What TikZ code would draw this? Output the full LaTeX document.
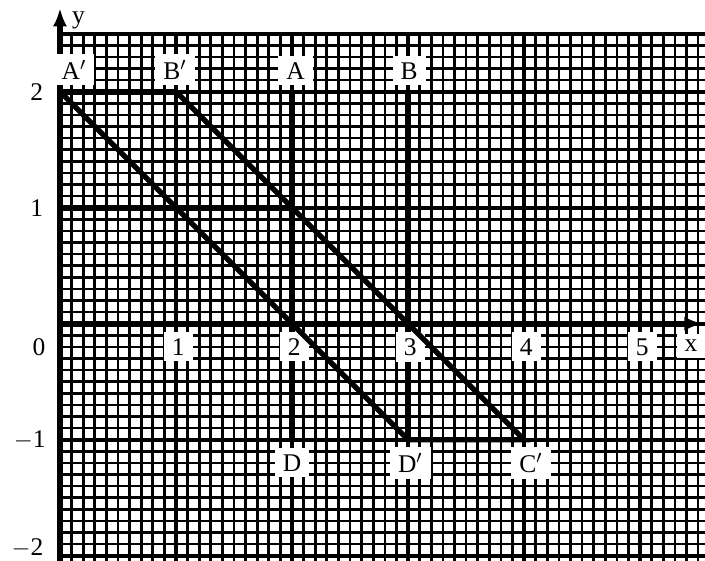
\documentclass[tikz,border=0pt]{standalone}
\usepackage{fontspec}
\setmainfont{Liberation Serif}
\usetikzlibrary{arrows.meta}
\begin{document}
\begin{tikzpicture}[
    x = 2cm, y = 2cm,
    fine/.style = {line width=1.3pt},
    unitline/.style = {line width=1.9pt},
    heavy/.style = {line width=3pt},
    seg/.style = {line width=2.6pt},
    lbl/.style = {fill=white, inner xsep=4pt, inner ysep=3pt, font=\fontsize{12.5}{14}\selectfont},
    num/.style = {inner sep=2pt, font=\fontsize{12.5}{14}\selectfont},
  ]
  \useasboundingbox (-0.517,-2.04) rectangle (5.56,2.79);
  % graph paper
  \draw[fine, step=0.1] (0,-2.05) grid (5.56,2.5);
  \draw[unitline, step=1] (0,-2.05) grid (5.56,2.5);
  \draw[unitline] (0,2.5) -- (5.56,2.5);
  % axes
  \draw[heavy, -{Latex[length=9pt,width=7pt]}] (0,-2.05) -- (0,2.72) coordinate (ytip);
  \draw[heavy, -{Latex[length=9pt,width=7pt]}] (0,0) coordinate (O) -- (5.54,0) coordinate (xtip);
  % points
  \coordinate (A1) at (0,2);
  \coordinate (B1) at (1,2);
  \coordinate (C1) at (4,-1);
  \coordinate (D1) at (3,-1);
  \coordinate (A) at (2,2);
  \coordinate (B) at (3,2);
  \coordinate (D) at (2,-1);
  \coordinate (P) at (0,1);
  \coordinate (Q) at (2,1);
  % figures
  \draw[heavy] (A) -- (D);
  \draw[heavy] (B) -- (D1);
  \draw[heavy] (P) -- (Q);
  \draw[heavy] (A1) -- (B1);
  % labels
  \node[lbl] (lA1) at (0.12,2.19) {A$'$};
  \node[lbl] (lB1) at (0.99,2.19) {B$'$};
  \node[lbl] (lA) at (2.03,2.18) {A};
  \node[lbl] (lB) at (3.01,2.18) {B};
  \node[lbl] (lD) at (2.0,-1.2) {D};
  \node[lbl] (lD1) at (3.02,-1.2) {D$'$};
  \node[lbl] (lC1) at (4.06,-1.2) {C$'$};
  \node[lbl, inner sep=1pt] (ly) at (0.16,2.61) {y};
  \node[lbl] (lx) at (5.44,-0.19) {x};
  \foreach \k in {1,...,5}
    \node[lbl] (nx\k) at (\k+0.02,-0.2) {\k};
  \node[num] (n0) at (-0.18,-0.2) {0};
  \node[num] (ny2) at (-0.2,2) {2};
  \node[num] (ny1) at (-0.2,1) {1};
  \node[num] (nym1) at (-0.26,-1) {$-$1};
  \node[num] (nym2) at (-0.28,-1.93) {$-$2};
  % slanted sides over the labels
  \draw[seg] (A1) -- (D1) -- (C1) -- (B1);
\end{tikzpicture}
\end{document}
